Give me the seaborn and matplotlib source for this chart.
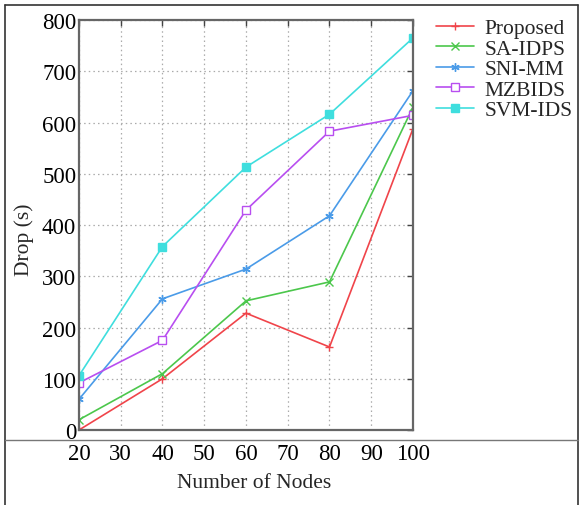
import matplotlib
matplotlib.use("Agg")
import matplotlib.pyplot as plt
import seaborn as sns
import pandas as pd
from matplotlib.lines import Line2D

nodes = [20, 40, 60, 80, 100]
proposed = [0, 100, 228, 162, 588]
sa_idps = [20, 110, 252, 289, 630]
sni_mm = [60, 256, 314, 418, 662]
mzbids = [92, 175, 429, 583, 614]
svm_ids = [106, 358, 513, 616, 765]
series_names = ["Proposed", "SA-IDPS", "SNI-MM", "MZBIDS", "SVM-IDS"]
series_values = [proposed, sa_idps, sni_mm, mzbids, svm_ids]
xticks = [20, 30, 40, 50, 60, 70, 80, 90, 100]
yticks = [0, 100, 200, 300, 400, 500, 600, 700, 800]

sns.set_style("white")
plt.rcParams['font.family'] = ['Liberation Serif', 'DejaVu Serif']

colors = ["#f0444a", "#4cc74c", "#4a9be8", "#b84ef0", "#3fdede"]
markers = ["+", "x", (6, 2, 0), "s", "s"]
mfcs = [None, None, None, "white", None]

fig = plt.figure(figsize=(5.82, 5.06), dpi=100)
ax = fig.add_axes([0.1357, 0.1482, 0.5739, 0.8103])

for name, vals, c, m, mf in zip(series_names, series_values, colors, markers, mfcs):
    df = pd.DataFrame({"x": nodes, "y": vals})
    kw = dict(markerfacecolor=mf if mf else c, markeredgecolor=c)
    sns.lineplot(data=df, x="x", y="y", ax=ax, color=c, marker=m, markersize=6,
                 linewidth=1.2, label=name, markeredgewidth=1.0, **kw)

ax.set_xlim(20, 100)
ax.set_ylim(0, 800)
ax.set_xticks(xticks)
ax.set_yticks(yticks)
ax.tick_params(direction="in", top=True, right=True, length=4, width=1,
               colors="#444444", labelcolor="black", labelsize=16.5, pad=2)
ax.tick_params(axis="x", pad=9)
ax.grid(True, linestyle=(0, (1.2, 2.5)), color="#aaaaaa", linewidth=0.9)
for s in ax.spines.values():
    s.set_color("#666666")
    s.set_linewidth(1.6)
ax.set_xlabel("Number of Nodes", fontsize=15.5)
ax.set_ylabel("Drop (s)", fontsize=15.5)
ax.xaxis.set_label_coords(0.525, -0.105)
ax.yaxis.set_label_coords(-0.134, 0.466)

ax.legend(loc="upper left", bbox_to_anchor=(1.043, 1.025), frameon=False,
          fontsize=15.5, handlelength=1.75, handletextpad=0.5, labelspacing=0.02,
          borderaxespad=0)

# outer frame lines
fig.add_artist(Line2D([5/582, 5/582], [0, 1-6/506], transform=fig.transFigure, color="#333333", lw=1.2))
fig.add_artist(Line2D([578/582, 578/582], [0, 1-6/506], transform=fig.transFigure, color="#333333", lw=1.2))
fig.add_artist(Line2D([5/582, 578/582], [1-6/506, 1-6/506], transform=fig.transFigure, color="#333333", lw=1.2))
fig.add_artist(Line2D([5/582, 578/582], [1-441/506, 1-441/506], transform=fig.transFigure, color="#777777", lw=1.0))

fig.savefig("out.png", dpi=100)
